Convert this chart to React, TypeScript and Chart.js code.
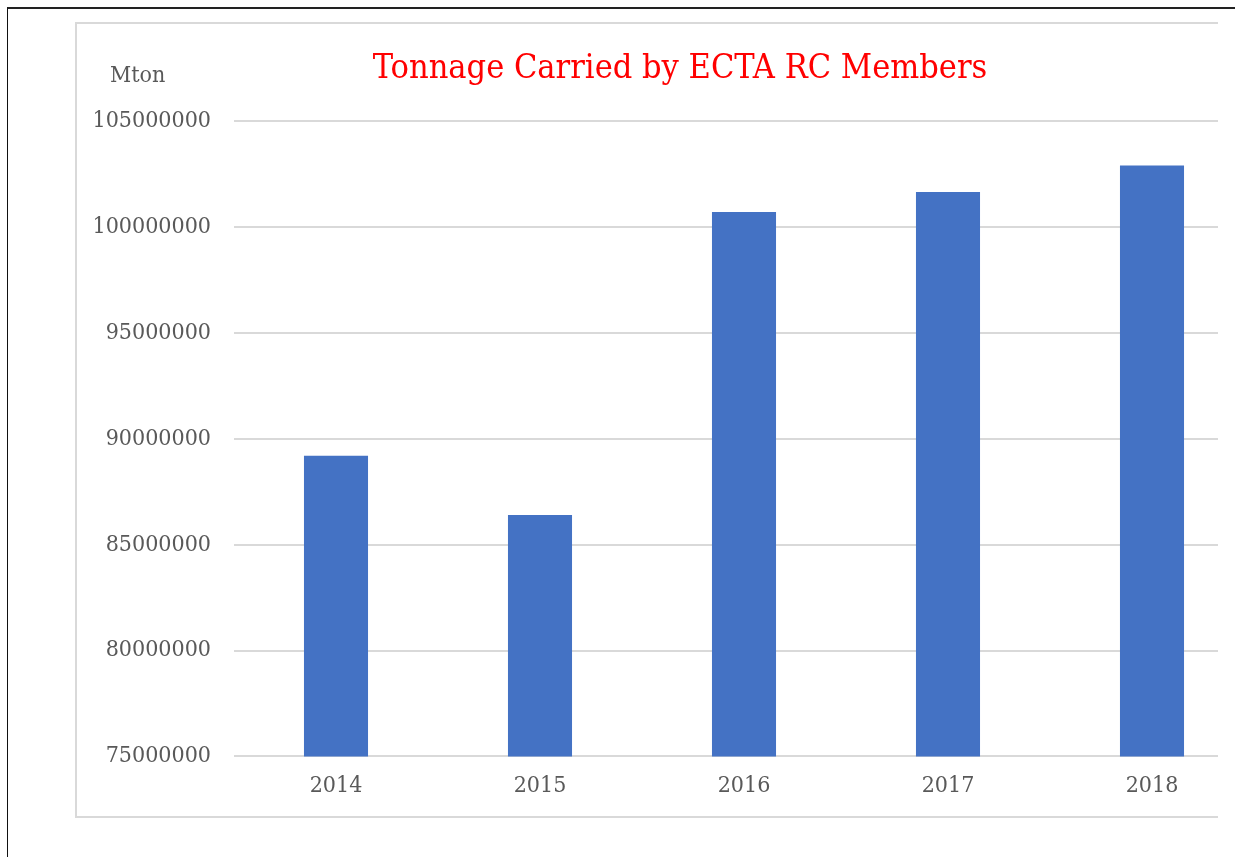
import React, { useEffect, useRef } from "react";
import { Chart, registerables } from "chart.js";

Chart.register(...registerables);

const years = ["2014", "2015", "2016", "2017", "2018"];
const tonnage = [89200000, 86400000, 100700000, 101650000, 102900000];
const yMin = 75000000;
const yMax = 105000000;
const yStep = 5000000;
const titleText = "Tonnage Carried by ECTA RC Members";
const unitText = "Mton";

const FONT = "'DejaVu Serif Condensed', 'DejaVu Serif', serif";

export default function App() {
  const ref = useRef<HTMLCanvasElement | null>(null);

  useEffect(() => {
    if (!ref.current) return;
    const chart = new Chart(ref.current, {
      type: "bar",
      data: {
        labels: years,
        datasets: [
          {
            data: tonnage,
            backgroundColor: "#4472C4",
            borderWidth: 0,
            categoryPercentage: 1,
            barPercentage: 0.314,
          },
        ],
      },
      options: {
        animation: false,
        responsive: false,
        maintainAspectRatio: false,
        layout: { padding: { top: 98, bottom: 0, left: 0, right: 0 } },
        plugins: {
          legend: { display: false },
          tooltip: { enabled: false },
          title: { display: false },
        },
        scales: {
          x: {
            grid: { display: false, drawTicks: false },
            border: { display: false },
            ticks: {
              color: "#595959",
              font: { family: FONT, size: 23 },
              padding: 16,
            },
          },
          y: {
            min: yMin,
            max: yMax,
            grid: { color: "#d9d9d9", lineWidth: 2, drawTicks: false },
            border: { display: false },
            ticks: {
              stepSize: yStep,
              color: "#595959",
              font: { family: FONT, size: 23 },
              padding: 23,
              callback: (v: any) => String(v),
            },
            afterFit: (scale: any) => {
              scale.width = 159;
            },
          },
        },
      },
    });
    return () => chart.destroy();
  }, []);

  return (
    <div
      style={{
        position: "absolute",
        left: 0,
        top: 0,
        width: 1235,
        height: 857,
        background: "#fff",
        overflow: "hidden",
      }}
    >
      <div
        style={{
          position: "absolute",
          left: 7,
          top: 7,
          width: 1300,
          height: 900,
          borderLeft: "1.5px solid #111",
          borderTop: "2px solid #222",
        }}
      />
      <div
        style={{
          position: "absolute",
          left: 0,
          top: 0,
          width: 1218,
          height: 857,
          overflow: "hidden",
        }}
      >
        <div
          style={{
            position: "absolute",
            left: 75,
            top: 22,
            width: 1300,
            height: 792,
            border: "2px solid #d9d9d9",
          }}
        />
        <canvas
          ref={ref}
          width={1179}
          height={793}
          style={{ position: "absolute", left: 75, top: 23, width: 1179, height: 793 }}
        />
        <div
          style={{
            position: "absolute",
            left: 680,
            top: 44,
            transform: "translateX(-50%)",
            whiteSpace: "nowrap",
            color: "#ff0000",
            fontFamily: FONT,
            fontSize: 34,
            lineHeight: "44px",
          }}
        >
          {titleText}
        </div>
        <div
          style={{
            position: "absolute",
            left: 110,
            top: 60,
            whiteSpace: "nowrap",
            color: "#595959",
            fontFamily: FONT,
            fontSize: 23,
            lineHeight: "28px",
          }}
        >
          {unitText}
        </div>
      </div>
    </div>
  );
}
